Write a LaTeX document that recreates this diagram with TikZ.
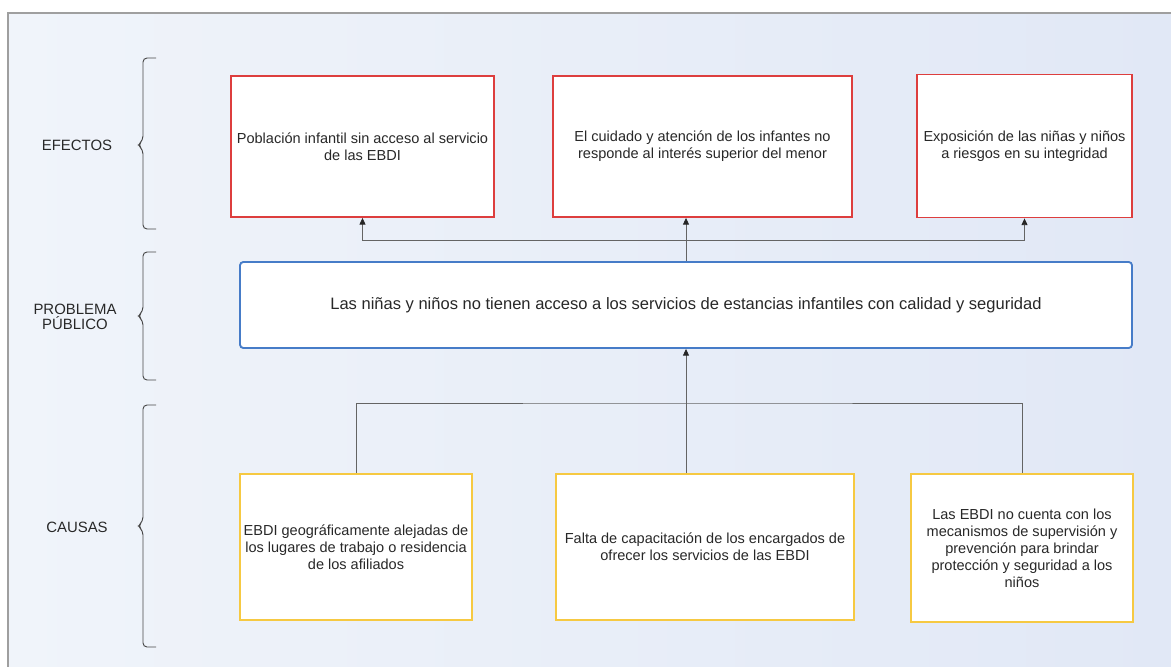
\documentclass[tikz,border=0pt]{standalone}
\usepackage{fontspec}
\setmainfont{Liberation Sans}
\usepackage{tikz}
\usetikzlibrary{positioning,arrows.meta}
\definecolor{rojo}{RGB}{221,62,62}
\definecolor{azul}{RGB}{70,124,200}
\definecolor{amarillo}{RGB}{246,201,66}
\definecolor{texto}{RGB}{40,40,40}
\definecolor{conector}{RGB}{100,100,100}
\definecolor{fondoA}{RGB}{240,244,250}
\definecolor{fondoB}{RGB}{225,232,246}
\tikzset{caja/.style = {draw,fill=white,line width=1.4pt,align=center,inner sep=0pt,text=texto,
                        font=\fontsize{10.9}{12.75}\selectfont},
         efecto/.style = {caja,draw=rojo},
         causa/.style = {caja,draw=amarillo},
         problema/.style = {caja,draw=azul,rounded corners=2.5pt,font=\fontsize{12.4}{14}\selectfont},
         etiqueta/.style = {align=center,text=texto,font=\fontsize{11.2}{11.5}\selectfont},
         linea/.style = {draw=conector,line width=0.6pt},
         flecha/.style = {linea,-{Triangle[length=5pt,width=4.5pt,color=black!85]}},
         llave/.style = {draw=texto!85,line width=0.7pt,rounded corners=3pt}}
\begin{document}
\begin{tikzpicture}[x=0.75pt,y=-0.75pt]
    \useasboundingbox (0,0) rectangle (1171,667);
    \fill [left color=fondoA,right color=fondoB] (8,13) rectangle (1171,667);
    \draw [gray!75,line width=1.4pt] (8,667) -- (8,13) -- (1171,13);

    % llaves y etiquetas
    \foreach \a/\m/\b in {58/145/229, 252/316/380, 405/526/647} {
        \draw [llave] (156,\a) -- (143,\a) -- (143,\m-5) -- (138,\m) -- (143,\m+5) -- (143,\b) -- (156,\b);
    }
    \node [etiqueta] (efectos) at (77,145) {EFECTOS};
    \node [etiqueta] (problema) at (75,317) {PROBLEMA\\PÚBLICO};
    \node [etiqueta] (causas) at (77,527) {CAUSAS};

    % efectos
    \node [efecto,minimum width=197.25pt,minimum height=105.75pt] (ef1) at (362.5,146.5)
        {Población infantil sin acceso al servicio\\de las EBDI};
    \node [efecto,minimum width=224.25pt,minimum height=105.75pt] (ef2) at (702.5,146.5)
        {El cuidado y atención de los infantes no\\responde al interés superior del menor};
    \node [efecto,minimum width=161.25pt,minimum height=107.25pt] (ef3) at (1024.5,146)
        {Exposición de las niñas y niños\\a riesgos en su integridad};

    % problema
    \node [problema,minimum width=669pt,minimum height=64.5pt] (pb) at (686,305)
        {Las niñas y niños no tienen acceso a los servicios de estancias infantiles con calidad y seguridad};

    % causas
    \node [causa,minimum width=174pt,minimum height=109.5pt] (c1) at (356,547)
        {EBDI geográficamente alejadas de\\los lugares de trabajo o residencia\\de los afiliados};
    \node [causa,minimum width=223.5pt,minimum height=109.5pt] (c2) at (705,547)
        {Falta de capacitación de los encargados de\\ofrecer los servicios de las EBDI};
    \node [causa,minimum width=166.5pt,minimum height=111pt] (c3) at (1022,548)
        {Las EBDI no cuenta con los\\mecanismos de supervisión y\\prevención para brindar\\protección y seguridad a los\\niños};

    % conectores
    \coordinate (sup) at (pb.north |- 0,240);
    \coordinate (inf) at (pb.south |- 0,403);
    \draw [flecha] (pb.north) -- (ef2.south -| pb.north);
    \draw [flecha] (sup) -| (ef1.south);
    \draw [flecha] (sup) -| (ef3.south);
    \draw [linea] (c1.north) |- (inf) -| (c3.north);
    \draw [flecha] (c2.north -| pb.south) -- (pb.south);
\end{tikzpicture}
\end{document}
